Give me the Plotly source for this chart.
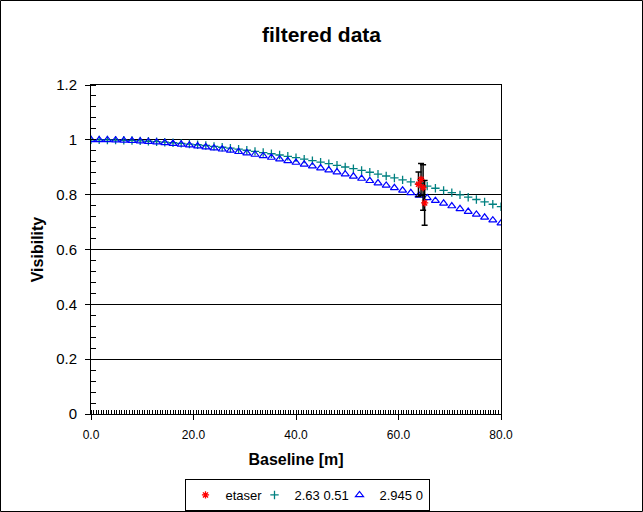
import plotly.graph_objects as go

# --- data ---
baseline = [round(1.6 * k, 1) for k in range(51)]  # sample baselines 0..80 m, step 1.6

vis_ld_263_051 = [
    1.000, 1.000, 0.9996, 0.9990, 0.9983, 0.9973, 0.9962, 0.9948, 0.9932, 0.9914,
    0.9894, 0.9872, 0.9847, 0.9821, 0.9793, 0.9762, 0.9730, 0.9695, 0.9659, 0.9620,
    0.9580, 0.9537, 0.9493, 0.9447, 0.9399, 0.9348, 0.9297, 0.9243, 0.9187, 0.9130,
    0.9071, 0.9010, 0.8948, 0.8883, 0.8818, 0.8750, 0.8681, 0.8610, 0.8538, 0.8464,
    0.8389, 0.8312, 0.8234, 0.8155, 0.8074, 0.7991, 0.7908, 0.7823, 0.7737, 0.7650,
    0.7562,
]

vis_ud_2945 = [
    1.000, 0.9999, 0.9995, 0.9988, 0.9978, 0.9966, 0.9951, 0.9933, 0.9913, 0.9890,
    0.9864, 0.9836, 0.9805, 0.9772, 0.9736, 0.9697, 0.9656, 0.9612, 0.9565, 0.9517,
    0.9465, 0.9412, 0.9355, 0.9297, 0.9236, 0.9173, 0.9108, 0.9040, 0.8970, 0.8898,
    0.8824, 0.8748, 0.8669, 0.8589, 0.8507, 0.8423, 0.8337, 0.8249, 0.8159, 0.8068,
    0.7974, 0.7880, 0.7783, 0.7685, 0.7586, 0.7485, 0.7383, 0.7279, 0.7174, 0.7068,
    0.6961,
]

etaser_x = [63.9, 64.4, 64.8, 65.1]
etaser_v = [0.838, 0.856, 0.826, 0.770]
etaser_err = [0.045, 0.058, 0.083, 0.082]

series_names = ["etaser", "2.63 0.51", "2.945 0"]
x_tick_vals = [0, 20, 40, 60, 80]
x_tick_text = ["0.0", "20.0", "40.0", "60.0", "80.0"]

FONT = "Liberation Sans, Arial, sans-serif"

fig = go.Figure()

fig.add_trace(go.Scatter(
    x=baseline, y=vis_ld_263_051, mode="markers", name=series_names[1],
    legendrank=2, legendwidth=40,
    marker=dict(symbol="cross-thin", size=6, color="#008080",
                line=dict(color="#008080", width=1.3)),
))
fig.add_trace(go.Scatter(
    x=baseline, y=vis_ud_2945, mode="markers", name=series_names[2],
    legendrank=3,
    marker=dict(symbol="triangle-up-open", size=7, color="#0000FF",
                line=dict(color="#0000FF", width=1.2)),
))
fig.add_trace(go.Scatter(
    x=etaser_x, y=etaser_v, mode="markers", name=series_names[0],
    legendrank=1, legendwidth=24,
    marker=dict(symbol="asterisk-open", size=6, color="#FF0000",
                line=dict(color="#FF0000", width=1.3)),
    error_y=dict(type="data", array=etaser_err, visible=True,
                 color="black", thickness=1.5, width=3),
))

# outer frame of the whole picture
fig.add_shape(type="rect", xref="paper", yref="paper",
              x0=(0.5 - 91) / 410, x1=(642.5 - 91) / 410,
              y0=(414 - 511.5) / 329, y1=(414 - 0.5) / 329,
              line=dict(color="black", width=1), fillcolor="rgba(0,0,0,0)",
              layer="below")

fig.update_layout(
    width=643, height=512,
    margin=dict(l=91, r=142, t=85, b=98, autoexpand=False),
    paper_bgcolor="white", plot_bgcolor="white",
    font=dict(family=FONT, color="black", size=14),
    title=dict(text="<b>filtered data</b>", x=0.5, xref="container",
               xanchor="center", y=1 - 35 / 512, yanchor="middle",
               font=dict(size=21, family=FONT, color="black")),
    showlegend=True,
    legend=dict(orientation="h", x=(307 - 91) / 410, xanchor="center",
                y=(414 - 479) / 329, yanchor="top",
                bordercolor="black", borderwidth=1, bgcolor="white",
                font=dict(size=13, family=FONT), itemwidth=30,
                tracegroupgap=0),
)

fig.update_xaxes(
    range=[0, 80], tickmode="array", tickvals=x_tick_vals, ticktext=x_tick_text,
    ticks="outside", ticklen=5, tickcolor="black", tickwidth=1,
    showline=True, linecolor="black", linewidth=1, mirror=True,
    showgrid=False, zeroline=False, ticklabelstandoff=5,
    tickfont=dict(size=12, family=FONT),
    minor=dict(ticks="inside", dtick=0.5, ticklen=4, tickcolor="black", showgrid=False),
    title=dict(text="<b>Baseline [m]</b>", font=dict(size=16, family=FONT), standoff=12),
)
fig.update_yaxes(
    range=[0, 1.2], dtick=0.2, tick0=0,
    ticks="outside", ticklen=5, tickcolor="black", tickwidth=1,
    showline=True, linecolor="black", linewidth=1, mirror=True,
    showgrid=True, gridcolor="black", gridwidth=1, zeroline=False,
    ticklabelstandoff=5,
    tickfont=dict(size=15, family=FONT),
    minor=dict(ticks="inside", dtick=0.04, ticklen=5, tickcolor="black", showgrid=False),
    title=dict(text="<b>Visibility</b>", font=dict(size=16, family=FONT), standoff=8),
)

fig.write_html("out.html", config={"displayModeBar": False},
               post_script="document.body.style.margin='0';")
